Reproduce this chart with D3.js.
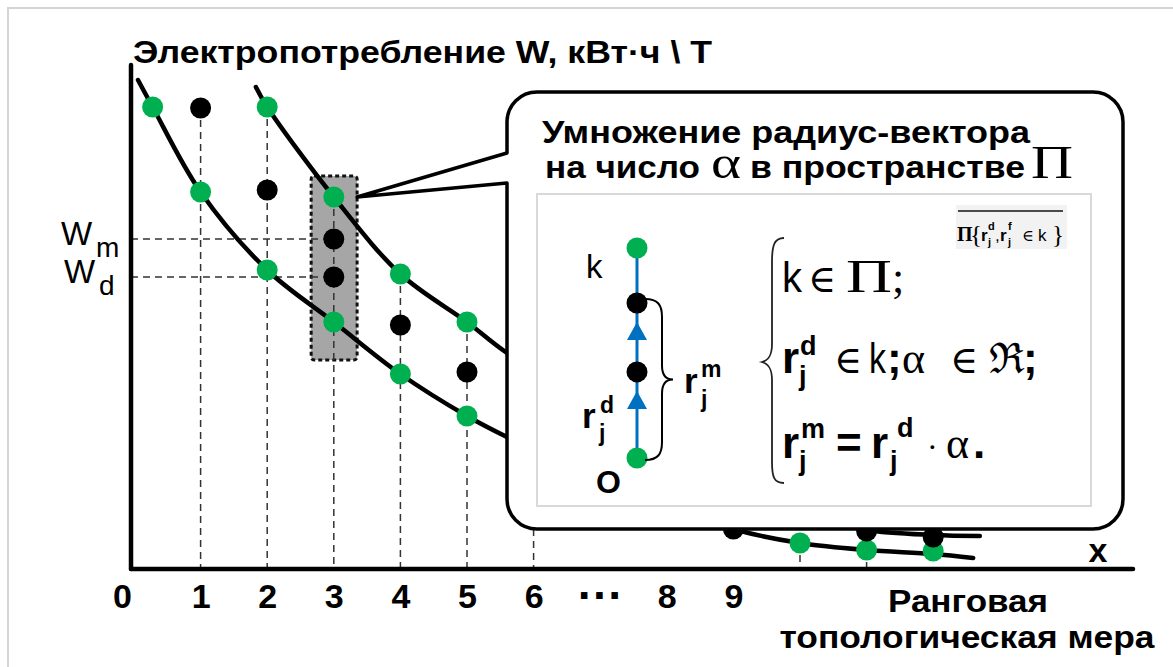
<!DOCTYPE html>
<html>
<head>
<meta charset="utf-8">
<script src="https://cdn.jsdelivr.net/npm/d3@7"></script>
<style>
  html, body { margin: 0; background: #fff; overflow: hidden; }
  svg { display: block; }
  text { font-family: "Liberation Sans", Arial, sans-serif; }
  .serif { font-family: "Liberation Serif", "DejaVu Serif", serif; }
</style>
</head>
<body>
<div id="chart"></div>
<script>
// ---- data (x = rank, W = consumption, arbitrary units) ----
const tickValues = [0, 1, 2, 3, 4, 5, 6, 7, 8, 9];
const tickLabels = ["0", "1", "2", "3", "4", "5", "6", "···", "8", "9"];

const lowerCurve = [[0.06, 97.8], [0.28, 92.4], [1, 75.4], [2, 59.8], [3, 49.4], [4, 39], [5, 30.6],
    [5.6, 26.4], [7.5, 14.8], [9.05, 7.8], [10, 5.2], [11, 3.8], [12, 3.0], [12.6, 2.2]];
const upperCurve = [[1.83, 96.4], [2, 92.4], [3, 74.4], [4, 59], [5, 49.4], [5.6, 43.2],
    [8, 23.8], [10.5, 9.6], [11, 7.8], [12, 6.8], [12.7, 6.6]];

const greenPoints = [[0.28, 92.4], [1, 75.4], [2, 59.8], [3, 49.4], [4, 39], [5, 30.6],
    [10, 5.2], [11, 3.8], [12, 3.6],
    [2, 92.4], [3, 74.4], [4, 59], [5, 49.4]];
const blackPoints = [[1, 92.2], [2, 75.8], [3, 66], [3, 58.4], [4, 48.8], [5, 39.4],
    [9, 8.0], [11, 7.6], [12, 6.4]];

// vertical guide lines: [x, top W]
const guides = [[1, 92.2], [2, 92.4], [3, 74.4], [4, 59], [5, 49.4], [6, 20], [10, 5.2], [11, 3.8]];
// horizontal guides for Wm and Wd
const levels = [{name: "m", w: 66, x: 3}, {name: "d", w: 58.4, x: 3}];
// highlighted column around x = 3
const highlight = {x0: 2.66, x1: 3.35, w0: 41.8, w1: 78.6, tipW: 74.4};

// vector diagram nodes (share of |k|)
const vectorNodes = [{t: 0, c: "green"}, {t: 0.41, c: "black"}, {t: 0.738, c: "black"}, {t: 1, c: "green"}];

const green = "#00b050", blue = "#0070c0";

const width = 1173, height = 667;
const svg = d3.select("#chart").append("svg")
    .attr("width", width).attr("height", height);

// scales
const x = d3.scaleLinear().domain([0, 15]).range([134, 1133]);
const y = d3.scaleLinear().domain([0, 100]).range([569, 69]);

// outer frame
svg.append("rect").attr("x", 8).attr("y", 8).attr("width", 1200).attr("height", 700)
    .attr("fill", "none").attr("stroke", "#d4d4d4").attr("stroke-width", 2);

// highlighted column
svg.append("rect")
    .attr("x", x(highlight.x0)).attr("y", y(highlight.w1))
    .attr("width", x(highlight.x1) - x(highlight.x0))
    .attr("height", y(highlight.w0) - y(highlight.w1))
    .attr("rx", 3)
    .attr("fill", "#a6a6a6").attr("stroke", "#111")
    .attr("stroke-width", 3).attr("stroke-dasharray", "4,3");

// guides
svg.selectAll(".vguide").data(guides).enter().append("line")
    .attr("x1", d => x(d[0])).attr("x2", d => x(d[0]))
    .attr("y1", d => y(d[1])).attr("y2", y(0))
    .attr("stroke", "#333").attr("stroke-width", 1.5).attr("stroke-dasharray", "7,5");

svg.selectAll(".hguide").data(levels).enter().append("line")
    .attr("x1", 131).attr("x2", d => x(d.x))
    .attr("y1", d => y(d.w)).attr("y2", d => y(d.w))
    .attr("stroke", "#333").attr("stroke-width", 1.5).attr("stroke-dasharray", "7,5");

// curves
const line = d3.line().x(d => x(d[0])).y(d => y(d[1])).curve(d3.curveCatmullRom.alpha(0.5));
[lowerCurve, upperCurve].forEach(c => {
    svg.append("path").attr("d", line(c))
        .attr("fill", "none").attr("stroke", "#000").attr("stroke-width", 4.5).attr("stroke-linecap", "round");
});

// points
svg.selectAll(".gp").data(greenPoints).enter().append("circle")
    .attr("cx", d => x(d[0])).attr("cy", d => y(d[1])).attr("r", 10.5).attr("fill", green);
svg.selectAll(".bp").data(blackPoints).enter().append("circle")
    .attr("cx", d => x(d[0])).attr("cy", d => y(d[1])).attr("r", 10.5).attr("fill", "#000");

// W labels
levels.forEach(l => {
    const yy = y(l.w);
    svg.append("text").attr("x", l.name === "m" ? 61 : 64).attr("y", yy + 6)
        .attr("font-size", 33).text("W");
    svg.append("text").attr("x", l.name === "m" ? 96 : 99).attr("y", yy + 18)
        .attr("font-size", 28).text(l.name);
});

// ---- callout box ----
const bx0 = 507, by0 = 92, bx1 = 1123, by1 = 529, r = 30;
const tipX = x(highlight.x1), tipY = y(highlight.tipW);
const callout = d3.path();
callout.moveTo(bx0 + r, by0);
callout.lineTo(bx1 - r, by0);
callout.arcTo(bx1, by0, bx1, by0 + r, r);
callout.lineTo(bx1, by1 - r);
callout.arcTo(bx1, by1, bx1 - r, by1, r);
callout.lineTo(bx0 + r, by1);
callout.arcTo(bx0, by1, bx0, by1 - r, r);
callout.lineTo(bx0, 183);
callout.lineTo(tipX, tipY);
callout.lineTo(bx0, 153);
callout.lineTo(bx0, by0 + r);
callout.arcTo(bx0, by0, bx0 + r, by0, r);
callout.closePath();
svg.append("path").attr("d", callout.toString())
    .attr("fill", "#fff").attr("stroke", "#000").attr("stroke-width", 3.5).attr("stroke-linejoin", "round");

function put(t, px, py, size, opts = {}) {
    const el = svg.append("text").attr("x", px).attr("y", py).attr("font-size", size)
        .attr("font-weight", opts.bold ? "bold" : "normal").text(t);
    if (opts.serif) el.attr("class", "serif");
    if (opts.len) el.attr("textLength", opts.len).attr("lengthAdjust", "spacingAndGlyphs");
    if (opts.anchor) el.attr("text-anchor", opts.anchor);
    return el;
}

// callout title
put("Умножение радиус-вектора", 542, 143, 32, {bold: true, len: 488});
put("на число", 545, 178, 32, {bold: true, len: 155});
put("α", 711, 178, 46, {serif: true, len: 30});
put("в пространстве", 750, 178, 32, {bold: true, len: 275});
put("Π", 1031, 178, 46, {serif: true, len: 42});

// inner panel
svg.append("rect").attr("x", 537).attr("y", 194).attr("width", 554).attr("height", 312)
    .attr("fill", "#fff").attr("stroke", "#d9d9d9").attr("stroke-width", 2);

// small formula label
svg.append("rect").attr("x", 956).attr("y", 205).attr("width", 111).attr("height", 44).attr("fill", "#f2f2f2");
svg.append("line").attr("x1", 958).attr("x2", 1063).attr("y1", 211).attr("y2", 211)
    .attr("stroke", "#111").attr("stroke-width", 1.3);

put("Π", 957, 241, 20, {serif: true, bold: true});
put("{", 970, 243, 25, {serif: true});
put("r", 981, 241, 17, {bold: true});
put("d", 988, 230, 11, {bold: true});
put("j", 988, 246, 11, {bold: true});
put(",", 995, 241, 17);
put("r", 1000, 241, 17, {bold: true});
put("f", 1008, 230, 11, {bold: true});
put("j", 1008, 246, 11, {bold: true});
put("∈", 1022, 241, 16, {serif: true});
put("k", 1038, 241, 17);
put("}", 1052, 243, 25, {serif: true});

// ---- vector diagram ----
const vy = d3.scaleLinear().domain([0, 1]).range([458, 248]);
const vx = 637;
svg.append("line").attr("x1", vx).attr("x2", vx).attr("y1", vy(0)).attr("y2", vy(1))
    .attr("stroke", blue).attr("stroke-width", 3);
[vectorNodes[1], vectorNodes[2]].forEach(n => {
    const tip = vy(n.t) + 19;
    svg.append("path").attr("d", `M${vx},${tip} L${vx - 10},${tip + 18} L${vx + 10},${tip + 18} Z`)
        .attr("fill", blue);
});
svg.selectAll(".vn").data(vectorNodes).enter().append("circle")
    .attr("cx", vx).attr("cy", d => vy(d.t)).attr("r", 10.5)
    .attr("fill", d => d.c === "green" ? green : "#000");

// curly brace for r^m
const b0 = vy(vectorNodes[2].t) - 4, b1 = vy(0) + 2, bm = (b0 + b1) / 2;
svg.append("path")
    .attr("d", `M645,${b0} C658,${b0} 662,${b0 + 6} 662,${b0 + 18} L662,${bm - 14} C662,${bm - 5} 665,${bm} 673,${bm}
                C665,${bm} 662,${bm + 5} 662,${bm + 14} L662,${b1 - 18} C662,${b1 - 6} 658,${b1} 645,${b1}`)
    .attr("fill", "none").attr("stroke", "#000").attr("stroke-width", 2);

put("k", 586, 278, 33);
put("O", 596, 493, 32, {bold: true});
put("r", 582, 428, 35, {bold: true});
put("d", 600, 413, 23, {bold: true});
put("j", 599, 441, 23, {bold: true});
put("r", 684, 393, 35, {bold: true});
put("m", 701, 377, 23, {bold: true});
put("j", 701, 407, 23, {bold: true});

// ---- system of conditions ----
svg.append("path")
    .attr("d", "M784,238 C774,238 772,246 772,262 L772,344 C772,355 769,360 762,362 C769,364 772,369 772,380 L772,462 C772,477 774,483 784,483")
    .attr("fill", "none").attr("stroke", "#222").attr("stroke-width", 1.8);

put("k", 782, 292, 42, {len: 20});
put("∈", 808, 292, 38, {serif: true});
put("Π", 846, 292, 46, {serif: true, len: 46});
put(";", 892, 292, 44, {serif: true});

put("r", 782, 373, 44, {bold: true});
put("d", 800, 355, 27, {bold: true});
put("j", 799, 385, 27, {bold: true});
put("∈", 834, 373, 38, {serif: true});
put("k", 869, 373, 42, {len: 17});
put(";", 887, 373, 44, {bold: true});
put("α", 902, 373, 44, {serif: true});
put("∈", 950, 373, 38, {serif: true});
put("ℜ", 989, 373, 42, {serif: true});
put(";", 1023, 373, 44, {bold: true});

put("r", 782, 458, 44, {bold: true});
put("m", 801, 438, 27, {bold: true});
put("j", 799, 470, 27, {bold: true});
put("=", 836, 458, 44, {bold: true});
put("r", 871, 458, 44, {bold: true});
put("d", 897, 437, 27, {bold: true});
put("j", 890, 470, 27, {bold: true});
put("·", 927, 458, 32, {serif: true});
put("α", 946, 458, 44, {serif: true});
put(".", 973, 458, 44, {bold: true});

// ---- axes ----
svg.append("line").attr("x1", 131).attr("x2", 131).attr("y1", 65).attr("y2", y(0))
    .attr("stroke", "#000").attr("stroke-width", 4.5).attr("stroke-linecap", "round");
svg.append("line").attr("x1", 131).attr("x2", x(15)).attr("y1", y(0)).attr("y2", y(0))
    .attr("stroke", "#000").attr("stroke-width", 4.5).attr("stroke-linecap", "round");

const xAxis = svg.append("g").attr("transform", `translate(0,${y(0)})`)
    .call(d3.axisBottom(x).tickValues(tickValues).tickSize(0)
        .tickFormat((d, i) => tickLabels[i]));
xAxis.select(".domain").remove();
xAxis.selectAll("text")
    .attr("y", 39).attr("dy", d => d === 7 ? 3 : 0)
    .attr("dx", d => d === 0 ? -12 : 0)
    .attr("font-size", d => d === 7 ? 46 : 34).attr("font-weight", "bold").attr("fill", "#000")
    .style("font-family", "'Liberation Sans', Arial, sans-serif");

// titles
put("Электропотребление W, кВт·ч \\ Т", 133, 63, 32, {bold: true, len: 579});
put("x", 1098, 562, 34, {bold: true, anchor: "middle"});
put("Ранговая", 968, 612, 31, {bold: true, anchor: "middle", len: 160});
put("топологическая мера", 967, 648, 31, {bold: true, anchor: "middle", len: 375});
</script>
</body>
</html>
